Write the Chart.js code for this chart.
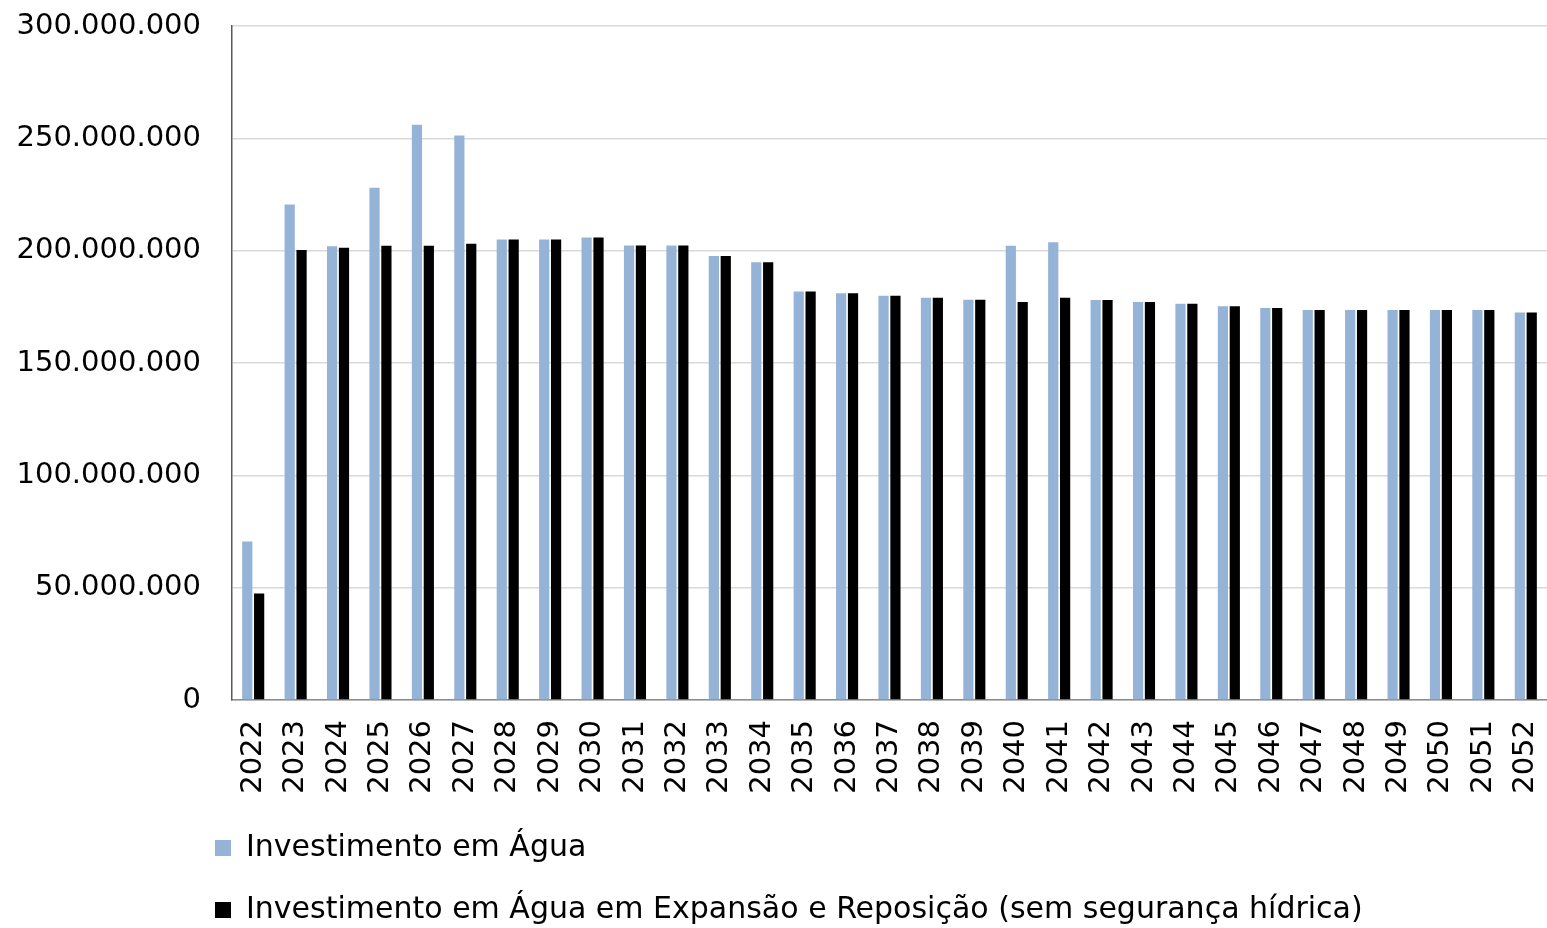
<!DOCTYPE html>
<html>
<head>
<meta charset="utf-8">
<script src="https://cdn.jsdelivr.net/npm/chart.js@4.4.1/dist/chart.umd.min.js"></script>
<style>
  html, body { margin: 0; padding: 0; background: #fff; overflow: hidden; }
  #wrap { width: 1547px; height: 935px; }
</style>
</head>
<body>
<div id="wrap"><canvas id="c" width="1547" height="935"></canvas></div>
<script>
const years = ['2022','2023','2024','2025','2026','2027','2028','2029','2030','2031','2032','2033','2034','2035','2036','2037','2038','2039','2040','2041','2042','2043','2044','2045','2046','2047','2048','2049','2050','2051','2052'];

const seriesNames = ['Investimento em Água', 'Investimento em Água em Expansão e Reposição (sem segurança hídrica)'];

const investimentoAgua = [70500000, 220600000, 202000000, 228000000, 256000000, 251300000, 205000000, 205000000, 205900000, 202300000, 202300000, 197600000, 194800000, 181800000, 181000000, 179900000, 179000000, 178200000, 202200000, 203800000, 178000000, 177100000, 176400000, 175300000, 174500000, 173600000, 173600000, 173600000, 173600000, 173600000, 172500000];

const investimentoExpansao = [47400000, 200300000, 201300000, 202200000, 202200000, 203100000, 205000000, 205000000, 205900000, 202300000, 202300000, 197600000, 194800000, 181800000, 181000000, 179900000, 179000000, 178200000, 177100000, 179000000, 178000000, 177100000, 176400000, 175300000, 174500000, 173600000, 173600000, 173600000, 173600000, 173600000, 172500000];

const yMin = 0, yMax = 300000000, yStep = 50000000;

function fmt(v) {
  return String(Math.round(v)).replace(/\B(?=(\d{3})+(?!\d))/g, '.');
}

const FONT = "'DejaVu Sans', sans-serif";

// moves the legend block so it starts just left of the plot area, as in the original
const legendShift = {
  id: 'legendShift',
  afterLayout(chart) {
    const lg = chart.legend;
    if (lg) { lg.left = chart.chartArea.left - 49; }
  }
};

new Chart(document.getElementById('c'), {
  type: 'bar',
  data: {
    labels: years,
    datasets: [
      { label: seriesNames[0], data: investimentoAgua, backgroundColor: '#95B3D7', borderWidth: 0 },
      { label: seriesNames[1], data: investimentoExpansao, backgroundColor: '#000000', borderWidth: 0 }
    ]
  },
  plugins: [legendShift],
  options: {
    responsive: false,
    animation: false,
    events: [],
    layout: { padding: { top: 0, left: 16, right: 0, bottom: 0 } },
    datasets: { bar: { categoryPercentage: 0.56, barPercentage: 0.86 } },
    plugins: {
      tooltip: { enabled: false },
      legend: {
        display: true,
        position: 'bottom',
        align: 'start',
        labels: {
          boxWidth: 16,
          boxHeight: 16,
          padding: 32,
          color: '#000',
          font: { family: FONT, size: 30 }
        }
      }
    },
    scales: {
      x: {
        grid: { display: false, drawTicks: false },
        border: { display: true, color: '#8c8c8c', width: 1.5 },
        ticks: {
          autoSkip: false,
          maxRotation: 90,
          minRotation: 90,
          padding: 20,
          color: '#000',
          font: { family: FONT, size: 29 }
        },
        afterFit: (s) => { s.height = 101; s.paddingRight = 0; s.paddingLeft = 0; }
      },
      y: {
        min: yMin,
        max: yMax,
        grid: { color: '#d9d9d9', lineWidth: 1.5, drawTicks: false },
        border: { display: true, color: '#595959', width: 1.5 },
        ticks: {
          stepSize: yStep,
          padding: 31,
          color: '#000',
          font: { family: FONT, size: 29 },
          callback: (v) => fmt(v)
        },
        afterFit: (s) => { s.width = 216; s.paddingTop = 26; }
      }
    }
  }
});
</script>
</body>
</html>
